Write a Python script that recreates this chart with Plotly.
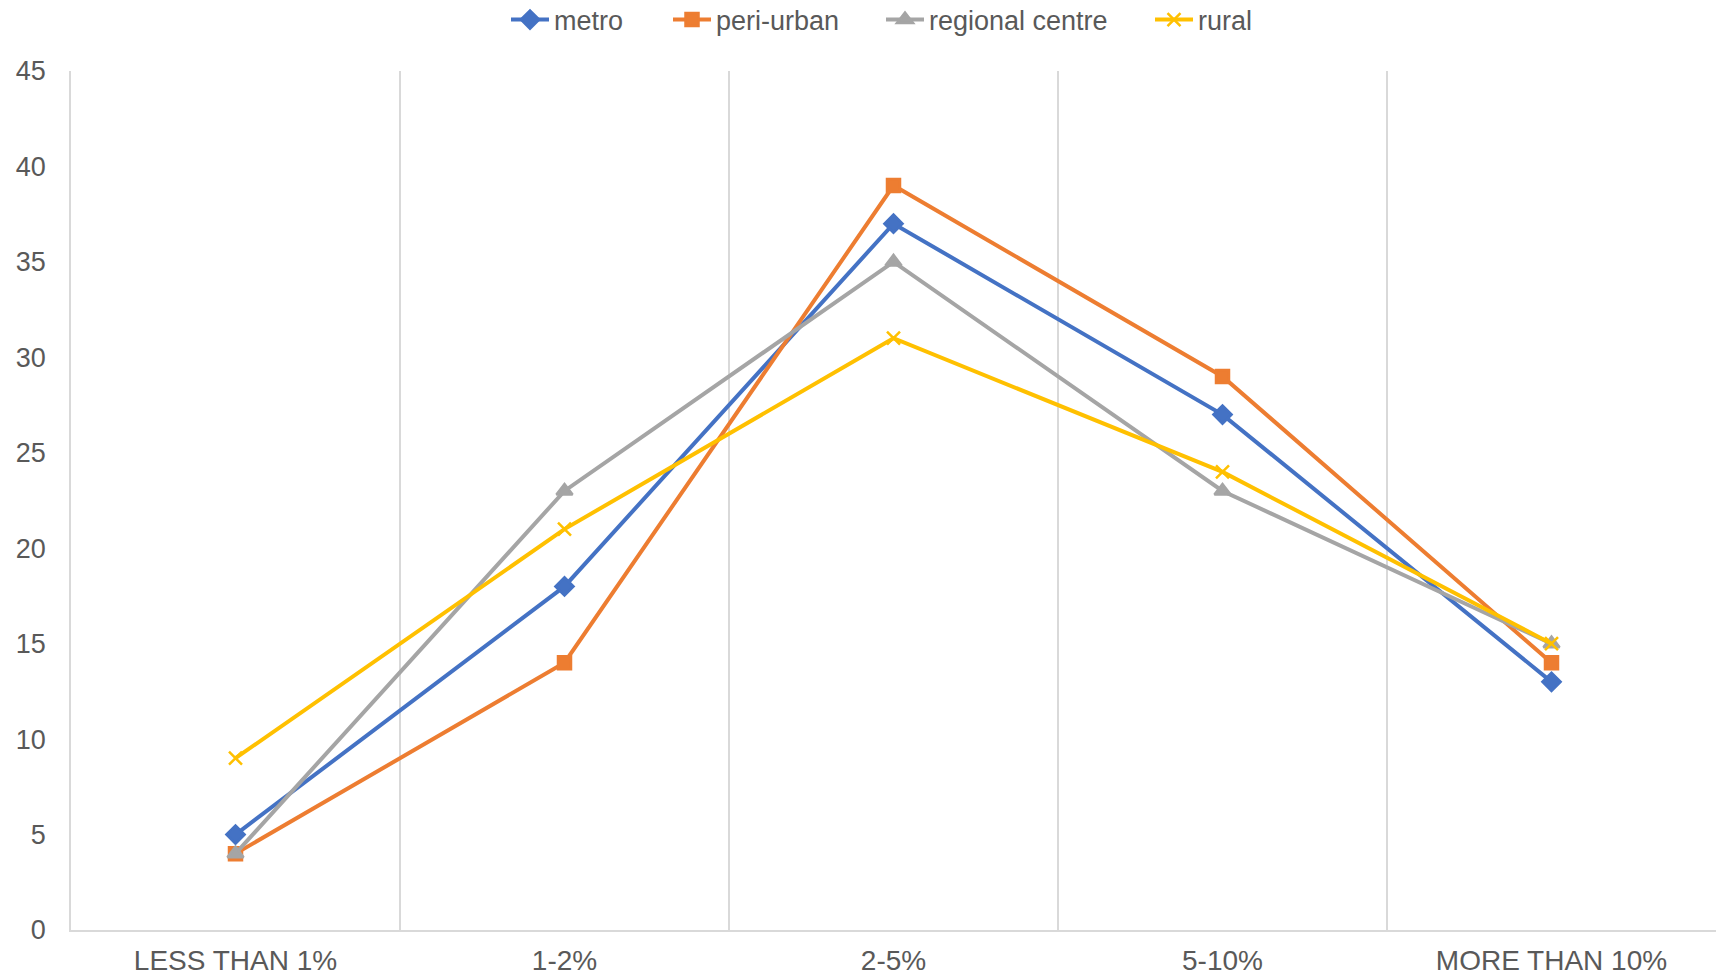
import plotly.graph_objects as go

categories = ["LESS THAN 1%", "1-2%", "2-5%", "5-10%", "MORE THAN 10%"]
metro = [5, 18, 37, 27, 13]
peri_urban = [4, 14, 39, 29, 14]
regional_centre = [4, 23, 35, 23, 15]
rural = [9, 21, 31, 24, 15]

# name, values, colour, marker symbol, marker size, legend id, legend left edge (px)
series = [
    ("metro", metro, "#4472C4", "diamond", 14, "legend", 506),
    ("peri-urban", peri_urban, "#ED7D31", "square", 13, "legend2", 668),
    ("regional centre", regional_centre, "#A5A5A5", "triangle-up", 14, "legend3", 881),
    ("rural", rural, "#FFC000", "x-thin", 13, "legend4", 1150),
]

W, H = 1716, 976
ML, MR, MT, MB = 71, 0, 71, 45
plot_w = W - ML - MR

font_family = "Liberation Sans, Arial, sans-serif"
text_color = "#595959"

fig = go.Figure()
legends = {}
for name, vals, color, symbol, size, leg, left_px in series:
    fig.add_trace(go.Scatter(
        x=categories, y=vals, name=name, mode="lines+markers",
        legend=leg,
        line=dict(color=color, width=4),
        marker=dict(symbol=symbol, size=size, color=color,
                    line=dict(color=color, width=2.5)),
    ))
    legends[leg] = dict(
        orientation="h", x=(left_px - ML) / plot_w, xanchor="left",
        y=1 - 20 / H, yref="container", yanchor="middle",
        font=dict(size=27, color=text_color, family=font_family),
        itemwidth=38, bgcolor="rgba(0,0,0,0)",
    )

fig.update_layout(
    width=W, height=H,
    margin=dict(l=ML, r=MR, t=MT, b=40),
    paper_bgcolor="white", plot_bgcolor="white",
    font=dict(family=font_family, size=26, color=text_color),
    showlegend=True,
    xaxis=dict(type="category", tickson="boundaries", range=[-0.5, 4.5],
               showgrid=True, gridcolor="#D9D9D9", gridwidth=1.5, ticks="",
               showline=True, linecolor="#D9D9D9", linewidth=2,
               tickfont=dict(size=28, color=text_color),
               ticklabelstandoff=4),
    yaxis=dict(range=[0, 45], dtick=5, showgrid=False, zeroline=False,
               showline=True, linecolor="#D9D9D9", linewidth=1.5,
               tickfont=dict(size=27, color=text_color),
               ticks="", ticklabelstandoff=18),
    **legends,
)

fig.write_html("out.html")
